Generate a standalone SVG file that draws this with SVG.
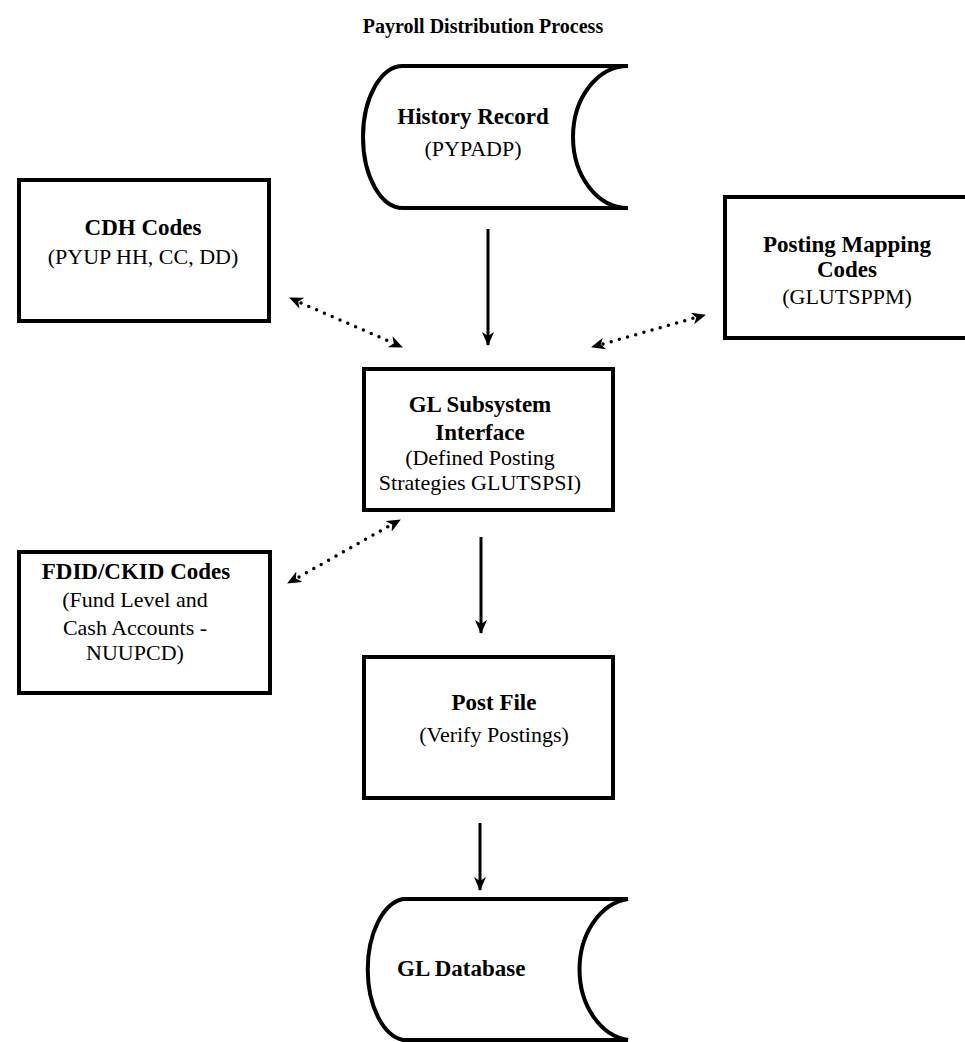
<svg xmlns="http://www.w3.org/2000/svg" width="965" height="1042" viewBox="0 0 965 1042">
  <style>
    .box { fill: #fff; stroke: #000; stroke-width: 4; }
    .store { fill: #fff; stroke: #000; stroke-width: 4; }
    .b { font-family: "Liberation Serif", "Times New Roman", serif; font-weight: bold; font-size: 23px; fill: #000; text-anchor: middle; }
    .r { font-family: "Liberation Serif", "Times New Roman", serif; font-size: 22px; fill: #000; text-anchor: middle; }
    .title { font-family: "Liberation Serif", "Times New Roman", serif; font-weight: bold; font-size: 20px; fill: #000; text-anchor: middle; }
    .flow { stroke: #000; stroke-width: 3; fill: none; }
    .link { stroke: #000; stroke-width: 3.5; fill: none; stroke-dasharray: 0 8.5; stroke-linecap: round; }
    .ends { stroke: #000; stroke-width: 3; stroke-dasharray: 0 200; }
  </style>
  <defs>
    <!-- barbed arrowhead shared by all connectors -->
    <marker id="head" viewBox="0 0 14 12" refX="13" refY="6" markerWidth="14" markerHeight="12" markerUnits="userSpaceOnUse" orient="auto-start-reverse">
      <path d="M0,0 L14,6 L0,12 L4,6 Z" fill="#000"/>
    </marker>
  </defs>

  <rect width="965" height="1042" fill="#fff"/>

  <text class="title" x="483" y="33">Payroll Distribution Process</text>

  <g id="connectors">
    <line class="flow" x1="488" y1="229" x2="488" y2="345" marker-end="url(#head)"/>
    <line class="flow" x1="481" y1="537" x2="481" y2="633" marker-end="url(#head)"/>
    <line class="flow" x1="480" y1="823" x2="480" y2="890" marker-end="url(#head)"/>
    <!-- dotted two-way links: dots on one line, heads on an invisible twin -->
    <line class="link" x1="301" y1="303" x2="391" y2="342"/>
    <line class="ends" x1="290" y1="298" x2="402" y2="347" marker-start="url(#head)" marker-end="url(#head)"/>
    <line class="link" x1="603" y1="344" x2="694" y2="318"/>
    <line class="ends" x1="592" y1="347" x2="705" y2="315" marker-start="url(#head)" marker-end="url(#head)"/>
    <line class="link" x1="299" y1="577" x2="389" y2="526"/>
    <line class="ends" x1="288" y1="583" x2="400" y2="520" marker-start="url(#head)" marker-end="url(#head)"/>
  </g>

  <g id="history-record">
    <path class="store" d="M403,66 H628 A55,71 0 0 0 628,208 H403 A40,71 0 0 1 403,66 Z"/>
    <text class="b" x="473" y="124">History Record</text>
    <text class="r" x="473" y="156">(PYPADP)</text>
  </g>

  <g id="cdh-codes">
    <rect class="box" x="19" y="180" width="250" height="141"/>
    <text class="b" x="143" y="235">CDH Codes</text>
    <text class="r" x="143" y="264">(PYUP HH, CC, DD)</text>
  </g>

  <g id="posting-mapping-codes">
    <rect class="box" x="725" y="197" width="250" height="141"/>
    <text class="b" x="847" y="252">Posting Mapping</text>
    <text class="b" x="847" y="277">Codes</text>
    <text class="r" x="847" y="304">(GLUTSPPM)</text>
  </g>

  <g id="gl-subsystem-interface">
    <rect class="box" x="364" y="369" width="249" height="141"/>
    <text class="b" x="480" y="412">GL Subsystem</text>
    <text class="b" x="480" y="440">Interface</text>
    <text class="r" x="480" y="465">(Defined Posting</text>
    <text class="r" x="480" y="490">Strategies GLUTSPSI)</text>
  </g>

  <g id="fdid-ckid-codes">
    <rect class="box" x="19" y="552" width="251" height="141"/>
    <text class="b" x="136" y="579">FDID/CKID Codes</text>
    <text class="r" x="135" y="607">(Fund Level and</text>
    <text class="r" x="135" y="635">Cash Accounts -</text>
    <text class="r" x="135" y="660">NUUPCD)</text>
  </g>

  <g id="post-file">
    <rect class="box" x="364" y="657" width="249" height="141"/>
    <text class="b" x="494" y="710">Post File</text>
    <text class="r" x="494" y="742">(Verify Postings)</text>
  </g>

  <g id="gl-database">
    <path class="store" d="M403,899 H628 A55,71 0 0 0 628,1040 H403 A40,71 0 0 1 403,899 Z"/>
    <text class="b" x="397" y="976" style="text-anchor:start">GL Database</text>
  </g>
</svg>
